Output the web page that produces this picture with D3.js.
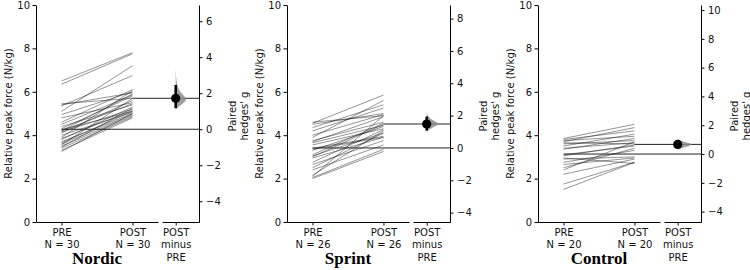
<!DOCTYPE html>
<html>
<head>
<meta charset="utf-8">
<script src="https://cdn.jsdelivr.net/npm/d3@7"></script>
<style>
  body { margin: 0; background: #fff; }
</style>
</head>
<body>
<script>
// ---- data ----
const groups = ["Nordic", "Sprint", "Control"];
const conditions = ["PRE", "POST"];
const forceTicks = [0, 2, 4, 6, 8, 10];

const nordicPre  = [6.5, 6.35, 5.45, 5.4, 5.35, 5.1, 4.95, 4.8, 4.6, 4.5, 4.4, 4.3, 4.25, 4.2, 4.2,
                    4.15, 4.1, 4.0, 3.9, 3.85, 3.8, 3.7, 3.65, 3.6, 3.55, 3.5, 3.45, 3.4, 3.3, 3.25];
const nordicPost = [7.8, 7.75, 5.7, 5.95, 6.75, 7.2, 6.0, 5.5, 6.1, 5.85, 5.4, 5.8, 5.1, 5.9, 5.45,
                    5.2, 5.6, 5.05, 6.05, 5.15, 5.3, 5.0, 5.1, 4.95, 5.7, 4.9, 5.25, 4.85, 4.8, 5.0];

const sprintPre  = [4.6, 4.55, 4.5, 4.35, 4.2, 4.0, 3.9, 3.75, 3.7, 3.65, 3.55, 3.4, 3.35,
                    3.3, 3.1, 3.05, 3.0, 2.95, 2.75, 2.65, 2.5, 2.4, 2.15, 2.1, 2.05, 2.0];
const sprintPost = [4.9, 5.85, 5.0, 5.4, 5.25, 4.95, 5.6, 4.6, 4.85, 4.45, 4.3, 3.95, 3.9,
                    4.4, 4.55, 4.1, 4.5, 3.9, 4.25, 3.75, 4.1, 3.55, 4.2, 4.9, 3.35, 3.25];

const controlPre  = [3.85, 3.8, 3.75, 3.7, 3.65, 3.6, 3.5, 3.4, 3.35, 3.1,
                     3.05, 2.95, 2.9, 2.75, 2.65, 2.5, 2.4, 2.2, 1.75, 1.5];
const controlPost = [4.5, 4.2, 3.95, 4.35, 3.6, 3.75, 4.05, 3.65, 3.85, 3.5,
                     3.55, 2.7, 3.0, 3.3, 2.95, 3.4, 3.7, 2.9, 2.75, 2.75];

// paired Hedges' g with 95% CI
const hedgesG = [1.72, 1.48, 0.67];
const ciLow   = [1.17, 1.07, 0.42];
const ciHigh  = [2.46, 1.94, 0.92];
const effectDomains = [[-5.15, 6.9], [-4.58, 8.84], [-4.72, 10.35]];
const effectTicks = [[-4, -2, 0, 2, 4, 6], [-4, -2, 0, 2, 4, 6, 8], [-4, -2, 0, 2, 4, 6, 8, 10]];

// bootstrap distribution outline (g value, relative density)
const nordicDistG = [1.1, 1.3, 1.5, 1.65, 1.8, 2.0, 2.2, 2.5, 2.8, 3.1, 3.4];
const nordicDistD = [0, 0.35, 0.8, 1, 0.85, 0.5, 0.28, 0.12, 0.05, 0.02, 0];
const sprintDistG = [1.0, 1.2, 1.35, 1.5, 1.65, 1.8, 2.0, 2.2];
const sprintDistD = [0, 0.3, 0.8, 1, 0.7, 0.3, 0.08, 0];
const controlDistG = [0.3, 0.45, 0.55, 0.67, 0.8, 0.9, 1.05];
const controlDistD = [0, 0.3, 0.8, 1, 0.6, 0.25, 0];

const preData = [nordicPre, sprintPre, controlPre];
const postData = [nordicPost, sprintPost, controlPost];
const distG = [nordicDistG, sprintDistG, controlDistG];
const distD = [nordicDistD, sprintDistD, controlDistD];

// ---- layout ----
const width = 750, height = 270;
const panelLeft = [36, 287, 538];
const plotTop = 5, plotBottom = 222;
const rightAxisX = 163;
const violinWidth = [11, 12, 15];
const sans = "DejaVu Sans, sans-serif";

const svg = d3.select("body").append("svg")
    .attr("width", width)
    .attr("height", height)
    .style("font-family", sans);

const y = d3.scaleLinear().domain([0, 10]).range([plotBottom, plotTop]);

// splits "a\nb" tick labels into stacked lines
function multiline(sel) {
  sel.selectAll(".tick text").each(function() {
    const t = d3.select(this);
    const lines = t.text().split("\n");
    t.text(null);
    lines.forEach((l, i) => {
      t.append("tspan").attr("x", 0).attr("dy", i === 0 ? "0.71em" : "12.6px").text(l);
    });
  });
}

function tickFont(a) {
  a.selectAll("text").attr("font-size", 10).attr("font-family", sans).attr("fill", "#111");
}

groups.forEach((name, i) => {
  const pre = preData[i], post = postData[i];
  const g = svg.append("g").attr("transform", `translate(${panelLeft[i]},0)`);

  const x = d3.scalePoint().domain(conditions).range([0, 122]).padding(0.36);
  const xEff = d3.scalePoint().domain(["POST\nminus\nPRE"]).range([126, rightAxisX]).align(0.37);
  const y2 = d3.scaleLinear().domain(effectDomains[i]).range([plotBottom, plotTop]);

  // paired lines
  g.append("g").selectAll("line")
    .data(d3.zip(pre, post))
    .join("line")
      .attr("x1", x("PRE")).attr("x2", x("POST"))
      .attr("y1", d => y(d[0])).attr("y2", d => y(d[1]))
      .attr("stroke", "#000")
      .attr("stroke-opacity", 0.42)
      .attr("stroke-width", 1);

  // reference lines: zero and effect
  g.append("line")
    .attr("x1", x("PRE")).attr("x2", rightAxisX)
    .attr("y1", y2(0)).attr("y2", y2(0))
    .attr("stroke", "#222").attr("stroke-width", 1);
  g.append("line")
    .attr("x1", x("POST")).attr("x2", rightAxisX)
    .attr("y1", y2(hedgesG[i])).attr("y2", y2(hedgesG[i]))
    .attr("stroke", "#222").attr("stroke-width", 1);

  // half violin of the bootstrap distribution
  const ex = xEff(xEff.domain()[0]);
  const w = d3.scaleLinear().domain([0, 1]).range([0, violinWidth[i]]);
  g.append("path")
    .datum(d3.zip(distG[i], distD[i]))
    .attr("transform", `translate(${ex},0)`)
    .attr("fill", "#8c8c8c")
    .attr("fill-opacity", 0.85)
    .attr("d", d3.area()
      .x0(0)
      .x1(d => w(d[1]))
      .y(d => y2(d[0]))
      .curve(d3.curveBasis));

  // CI bar and point estimate
  g.append("line")
    .attr("x1", ex).attr("x2", ex)
    .attr("y1", y2(ciLow[i])).attr("y2", y2(ciHigh[i]))
    .attr("stroke", "#000").attr("stroke-width", 2.5);
  g.append("circle")
    .attr("cx", ex).attr("cy", y2(hedgesG[i]))
    .attr("r", 4.6)
    .attr("fill", "#000");

  // axes
  g.append("g")
    .call(d3.axisLeft(y).tickValues(forceTicks).tickSize(3.5).tickPadding(2.5).tickSizeOuter(0))
    .call(tickFont);

  g.append("g")
    .attr("transform", `translate(0,${plotBottom})`)
    .call(d3.axisBottom(x).tickSize(3.5).tickPadding(3.2).tickSizeOuter(0)
      .tickFormat(c => `${c}\nN = ${c === "PRE" ? pre.length : post.length}`))
    .call(tickFont)
    .call(multiline);

  g.append("g")
    .attr("transform", `translate(0,${plotBottom})`)
    .call(d3.axisBottom(xEff).tickSize(3.5).tickPadding(3.2).tickSizeOuter(0))
    .call(tickFont)
    .call(multiline);

  g.append("g")
    .attr("transform", `translate(${rightAxisX},0)`)
    .call(d3.axisRight(y2).tickValues(effectTicks[i]).tickSize(3.5).tickPadding(3.5).tickSizeOuter(0))
    .call(tickFont);

  // axis titles
  g.append("text")
    .attr("transform", `translate(-24.5,${(plotTop + plotBottom) / 2}) rotate(-90)`)
    .attr("text-anchor", "middle")
    .attr("font-size", 10)
    .attr("fill", "#111")
    .text("Relative peak force (N/kg)");

  const rt = g.append("text")
    .attr("transform", `translate(${rightAxisX + 37},116) rotate(-90)`)
    .attr("text-anchor", "middle")
    .attr("font-size", 10)
    .attr("fill", "#111");
  rt.append("tspan").attr("x", 0).attr("dy", 0).text("Paired");
  rt.append("tspan").attr("x", 0).attr("dy", 11.5).text("hedges' g");

  // group title
  g.append("text")
    .attr("x", (x("PRE") + x("POST")) / 2)
    .attr("y", 264)
    .attr("text-anchor", "middle")
    .style("font-family", "'Liberation Serif', 'Times New Roman', serif")
    .attr("font-weight", "bold")
    .attr("font-size", 17)
    .text(name);
});
</script>
</body>
</html>
